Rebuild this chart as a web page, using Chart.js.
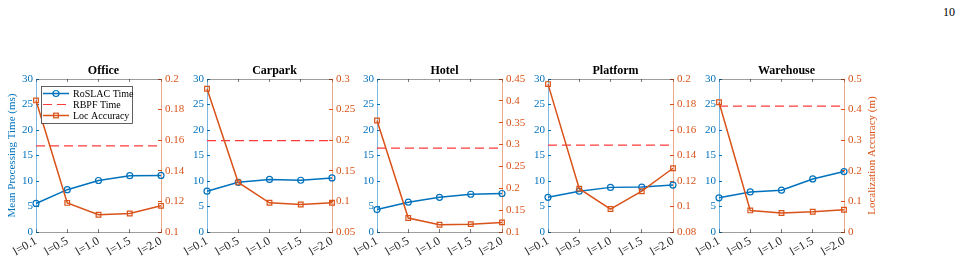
<!DOCTYPE html>
<html>
<head>
<meta charset="utf-8">
<script src="https://cdn.jsdelivr.net/npm/chart.js@4.4.1/dist/chart.umd.min.js"></script>
<style>
  html, body { margin: 0; padding: 0; background: #fff; width: 962px; height: 262px; overflow: hidden; }
  .panel { position: absolute; top: 60px; }
  #pageNo { position: absolute; left: 943px; top: 5px; font: 12px "Liberation Serif", serif; color: #000; }
</style>
</head>
<body>
<div id="pageNo">10</div>
<div id="charts"></div>
<script>
// ---- data ----
const scenes = ["Office", "Carpark", "Hotel", "Platform", "Warehouse"];
const xLabels = ["l=0.1", "l=0.5", "l=1.0", "l=1.5", "l=2.0"];

// mean processing time (ms), left axis
const roslacTime = [
    [5.6, 8.3, 10.1, 11.05, 11.1],
    [8.0, 9.75, 10.3, 10.15, 10.6],
    [4.4, 5.85, 6.8, 7.4, 7.55],
    [6.8, 8.0, 8.75, 8.8, 9.2],
    [6.7, 7.85, 8.2, 10.4, 11.85],
];
const rbpfTime = [16.9, 17.9, 16.45, 17.05, 24.7];

// localization accuracy (m), right axis
const locAccuracy = [
    [0.186, 0.119, 0.1113, 0.1121, 0.1171],
    [0.284, 0.131, 0.0977, 0.095, 0.0977],
    [0.355, 0.132, 0.1167, 0.118, 0.122],
    [0.196, 0.114, 0.098, 0.112, 0.130],
    [0.424, 0.0705, 0.062, 0.066, 0.0727],
];
const accMin = [0.1, 0.05, 0.1, 0.08, 0];
const accMax = [0.2, 0.3, 0.45, 0.2, 0.5];
const accStep = [0.02, 0.05, 0.05, 0.02, 0.1];
const timeTicks = { min: 0, max: 30, step: 5 };

// ---- styling ----
const BLUE = "#0072BD";
const ORANGE = "#D95319";
const DASH_RED = "#ff3a3a";
const SERIF = '"Liberation Serif", "Times New Roman", serif';

Chart.defaults.font.family = SERIF;
Chart.defaults.font.size = 11;

const fmt = (v) => String(Math.round(v * 1000) / 1000);

// legend drawn inside the first panel (top-left of plot area)
const insideLegend = {
    id: "insideLegend",
    afterDatasetsDraw(chart) {
        const ctx = chart.ctx;
        const a = chart.chartArea;
        const x = Math.round(a.left) + 5, y = Math.round(a.top) + 7, w = 91, h = 37;
        ctx.save();
        ctx.fillStyle = "#fff";
        ctx.fillRect(x, y, w, h);
        ctx.strokeStyle = "#3a3a3a";
        ctx.lineWidth = 0.8;
        ctx.strokeRect(x + 0.5, y + 0.5, w, h);
        ctx.font = "10px " + SERIF;
        ctx.textBaseline = "middle";
        chart.data.datasets.forEach((ds, i) => {
            const cy = y + 7.5 + i * 11;
            ctx.strokeStyle = ds.borderColor;
            ctx.lineWidth = ds.borderWidth;
            ctx.setLineDash(ds.borderDash || []);
            ctx.beginPath();
            ctx.moveTo(x + 2, cy);
            ctx.lineTo(x + 28, cy);
            ctx.stroke();
            ctx.setLineDash([]);
            ctx.lineWidth = 1.2;
            if (ds.pointStyle === "circle") {
                ctx.beginPath();
                ctx.arc(x + 15, cy, ds.pointRadius, 0, Math.PI * 2);
                ctx.stroke();
            } else if (ds.pointStyle === "rect") {
                const s = ds.pointRadius * Math.SQRT1_2;
                ctx.strokeRect(x + 15 - s, cy - s, 2 * s, 2 * s);
            }
            ctx.fillStyle = "#000";
            ctx.fillText(ds.label, x + 32, cy + 0.5);
        });
        ctx.restore();
    },
};

// right axis title (MATLAB reads it bottom-to-top, Chart.js would flip it)
const rightAxisTitle = {
    id: "rightAxisTitle",
    afterDraw(chart) {
        const s = chart.scales.yAcc;
        const a = chart.chartArea;
        const ctx = chart.ctx;
        ctx.save();
        ctx.translate(s.right - 17, (a.top + a.bottom) / 2);
        ctx.rotate(-Math.PI / 2);
        ctx.fillStyle = ORANGE;
        ctx.font = "11px " + SERIF;
        ctx.textAlign = "center";
        ctx.textBaseline = "middle";
        ctx.fillText("Localization Accuracy (m)", 0, 0);
        ctx.restore();
    },
};

const holder = document.getElementById("charts");

scenes.forEach((scene, i) => {
    const plotLeft = Math.round(35.7 + i * 170.8);
    const canvas = document.createElement("canvas");
    canvas.className = "panel";
    canvas.width = 205;
    canvas.height = 202;
    canvas.style.left = (plotLeft - 35) + "px";
    holder.appendChild(canvas);

    const plugins = [];
    if (i === 0) plugins.push(insideLegend);
    if (i === scenes.length - 1) plugins.push(rightAxisTitle);

    new Chart(canvas, {
        type: "line",
        data: {
            labels: xLabels,
            datasets: [
                {
                    label: "RoSLAC Time",
                    data: roslacTime[i],
                    yAxisID: "yTime",
                    borderColor: BLUE,
                    backgroundColor: "rgba(0,0,0,0)",
                    borderWidth: 1.5,
                    tension: 0,
                    pointStyle: "circle",
                    pointRadius: 3,
                    pointBorderWidth: 1.2,
                    pointBackgroundColor: "rgba(0,0,0,0)",
                    pointBorderColor: BLUE,
                    order: 3,
                },
                {
                    label: "RBPF Time",
                    data: xLabels.map(() => rbpfTime[i]),
                    yAxisID: "yTime",
                    borderColor: DASH_RED,
                    borderWidth: 1.2,
                    borderDash: [9, 5],
                    pointRadius: 0,
                    order: 2,
                },
                {
                    label: "Loc Accuracy",
                    data: locAccuracy[i],
                    yAxisID: "yAcc",
                    borderColor: ORANGE,
                    backgroundColor: "rgba(0,0,0,0)",
                    borderWidth: 1.5,
                    tension: 0,
                    pointStyle: "rect",
                    pointRadius: 3.3,
                    pointBorderWidth: 1.2,
                    pointBackgroundColor: "rgba(0,0,0,0)",
                    pointBorderColor: ORANGE,
                    order: 1,
                },
            ],
        },
        options: {
            responsive: false,
            animation: false,
            devicePixelRatio: 1,
            layout: { padding: 0 },
            plugins: {
                legend: { display: false },
                tooltip: { enabled: false },
                title: {
                    display: true,
                    text: scene,
                    color: "#000",
                    font: { family: SERIF, size: 12, weight: "bold" },
                    padding: { top: 4, bottom: 0.6 },
                },
            },
            scales: {
                x: {
                    type: "category",
                    offset: false,
                    position: "bottom",
                    grid: { display: true, drawOnChartArea: false, tickLength: -3, color: "rgba(38,38,38,0.6)" },
                    border: { color: "rgba(38,38,38,0.45)", width: 1 },
                    ticks: { autoSkip: false, minRotation: 30, maxRotation: 30, color: "#262626", padding: 5, font: { size: 12 } },
                    afterFit: (s) => { s.height = 30; },
                },
                xTop: {
                    type: "category",
                    offset: false,
                    position: "top",
                    grid: { display: true, drawOnChartArea: false, tickLength: -3, color: "rgba(38,38,38,0.6)" },
                    border: { color: "rgba(38,38,38,0.45)", width: 1 },
                    ticks: { display: false },
                    afterFit: (s) => { s.height = 0; },
                },
                yTime: {
                    position: "left",
                    min: timeTicks.min,
                    max: timeTicks.max,
                    grid: { display: true, drawOnChartArea: false, tickLength: -3, color: BLUE },
                    border: { color: "rgba(0,114,189,0.5)", width: 1 },
                    ticks: { stepSize: timeTicks.step, color: BLUE, padding: 6, callback: fmt },
                    title: {
                        display: i === 0,
                        text: "Mean Processing Time (ms)",
                        color: BLUE,
                        font: { size: 11 },
                        padding: { top: 5, bottom: 0 },
                    },
                    afterFit: (s) => { s.width = 35; },
                },
                yAcc: {
                    position: "right",
                    min: accMin[i],
                    max: accMax[i],
                    grid: { display: true, drawOnChartArea: false, tickLength: -3, color: ORANGE },
                    border: { color: "rgba(217,83,25,0.5)", width: 1 },
                    ticks: { stepSize: accStep[i], color: ORANGE, padding: 7, callback: fmt },
                    afterFit: (s) => { s.width = 45; },
                },
            },
        },
        plugins: plugins,
    });
});
</script>
</body>
</html>
